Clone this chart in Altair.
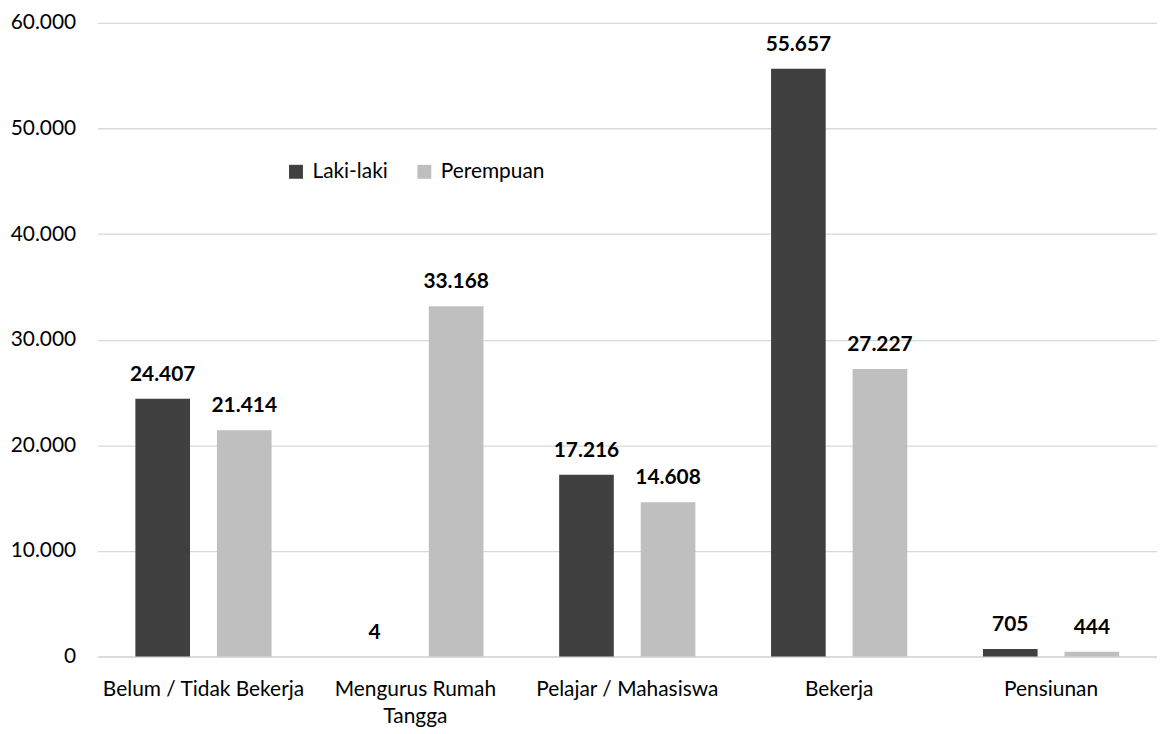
import altair as alt
import pandas as pd

categories = ["Belum / Tidak Bekerja", "Mengurus Rumah Tangga", "Pelajar / Mahasiswa", "Bekerja", "Pensiunan"]
laki = [24407, 4, 17216, 55657, 705]
perempuan = [21414, 33168, 14608, 27227, 444]
series = ["Laki-laki", "Perempuan"]
colors = ["#404040", "#bfbfbf"]

rows = []
for c, l, p in zip(categories, laki, perempuan):
    rows.append({"kategori": c, "jenis": series[0], "nilai": l, "label": f"{l:,}".replace(",", ".")})
    rows.append({"kategori": c, "jenis": series[1], "nilai": p, "label": f"{p:,}".replace(",", ".")})
df = pd.DataFrame(rows)

FONT = "Lato"
FS = 21

x = alt.X("kategori:N", sort=categories, title=None,
          scale=alt.Scale(paddingInner=0, paddingOuter=0),
          axis=alt.Axis(labelAngle=0, labelFontSize=FS, labelFont=FONT, labelColor="#000000",
                        ticks=False, grid=False, domainColor="#d9d9d9", domainWidth=1.5, labelPadding=22,
                        labelLineHeight=27, labelBaseline="top", labelLimit=0,
                        labelExpr="datum.value == 'Mengurus Rumah Tangga' ? ['Mengurus Rumah', 'Tangga'] : datum.value"))
xo = alt.XOffset("jenis:N", sort=series, scale=alt.Scale(paddingInner=0.33, paddingOuter=0.464))
y = alt.Y("nilai:Q", title=None,
          scale=alt.Scale(domain=[0, 60000], nice=False),
          axis=alt.Axis(values=[0, 10000, 20000, 30000, 40000, 50000, 60000],
                        labelExpr="replace(format(datum.value, ','), ',', '.')",
                        labelFontSize=FS, labelFont=FONT, labelColor="#000000", labelPadding=22,
                        ticks=False, domain=False, gridColor="#d9d9d9", gridWidth=1.3))

bars = alt.Chart(df).mark_bar().encode(
    x=x, xOffset=xo, y=y,
    color=alt.Color("jenis:N", sort=series, scale=alt.Scale(domain=series, range=colors),
                    legend=alt.Legend(title=None, orient="none", legendX=189, legendY=139,
                                      direction="horizontal", symbolType="square", symbolSize=196,
                                      symbolStrokeWidth=0, labelFontSize=FS, labelFont=FONT,
                                      labelColor="#000000", columnPadding=26, labelOffset=6)),
)

text = alt.Chart(df).mark_text(fontWeight="bold", fontSize=FS, font=FONT, color="#000000",
                               baseline="alphabetic", dy=-18).encode(
    x=x, xOffset=xo, y=y,
    text="label:N",
)

chart = (bars + text).properties(
    width=1065, height=637,
    autosize=alt.AutoSizeParams(type="none"),
    padding={"left": 90, "top": 13, "right": 0, "bottom": 76},
).configure(background="#ffffff").configure_view(stroke=None)

chart.save("out.html", embed_options={"renderer": "svg", "actions": False})
